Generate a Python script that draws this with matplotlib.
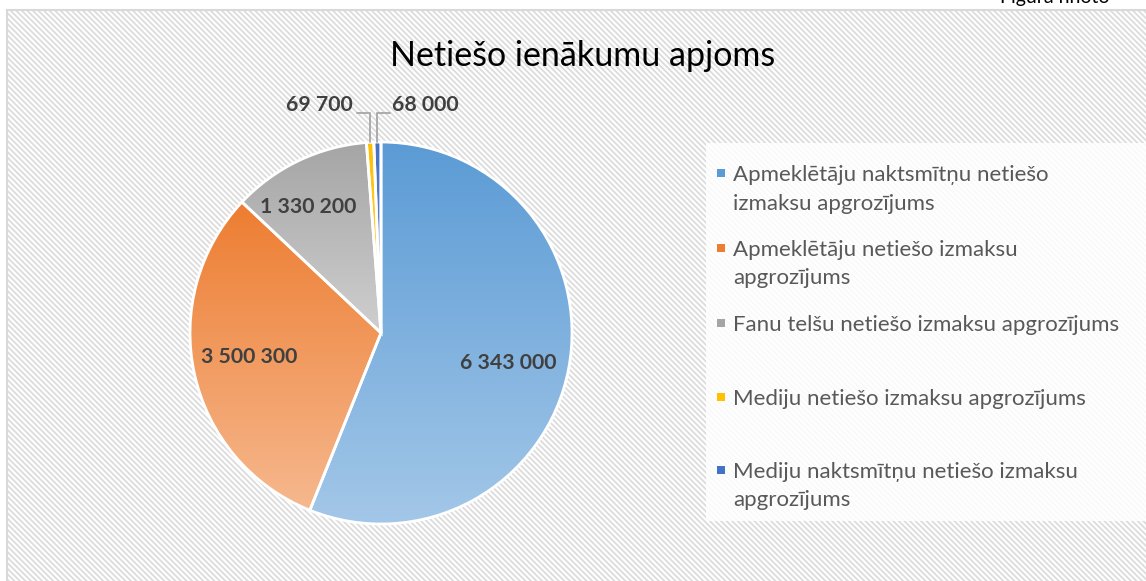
"""
Pie chart: Netiešo ienākumu apjoms.

Recreates a spreadsheet-style pie with gradient slices, hatched
background and a manual legend on the right.
"""

import matplotlib

matplotlib.use("Agg")
import matplotlib.pyplot as plt
import numpy as np
from matplotlib.colors import LinearSegmentedColormap
from matplotlib.patches import Rectangle

W, H = 1146, 581

categories = [
    "Apmeklētāju naktsmītņu netiešo\nizmaksu apgrozījums",
    "Apmeklētāju netiešo izmaksu\napgrozījums",
    "Fanu telšu netiešo izmaksu apgrozījums",
    "Mediju netiešo izmaksu apgrozījums",
    "Mediju naktsmītņu netiešo izmaksu\napgrozījums",
]
values = [6343000, 3500300, 1330200, 69700, 68000]
value_labels = ["6 343 000", "3 500 300", "1 330 200", "69 700", "68 000"]

top_colors = ["#5b9bd5", "#ed7d31", "#a5a5a5", "#ffc000", "#4472c4"]
bottom_colors = ["#a3c7e8", "#f6b88e", "#cfcfcf", "#ffd966", "#6f93d3"]

FONT = ["Lato", "DejaVu Sans"]
plt.rcParams["font.family"] = FONT
plt.rcParams["hatch.linewidth"] = 1.3


def px(x, y):
    """Pixel position (from top-left) to figure fraction."""
    return x / W, 1 - y / H


fig = plt.figure(figsize=(W / 100, H / 100), dpi=100)
fig.patch.set_facecolor("white")

# hatched chart area with light border on top/left
bx, by = px(7, 10)
fig.patches.append(Rectangle((bx, -0.1), 1.2, by + 0.1, transform=fig.transFigure,
                             facecolor="white", edgecolor="#dcdcdc", hatch="\\" * 6,
                             linewidth=0, zorder=0))
fig.add_artist(plt.Line2D([bx, bx], [-0.1, by], transform=fig.transFigure,
                          color="#d9d9d9", linewidth=1.5))
fig.add_artist(plt.Line2D([bx, 1.1], [by, by], transform=fig.transFigure,
                          color="#d9d9d9", linewidth=1.5))

# legend backdrop
lx, ly = px(706, 521)
fig.patches.append(Rectangle((lx, ly), 1.0, px(0, 143)[1] - ly, transform=fig.transFigure,
                             facecolor="white", edgecolor="none", alpha=0.85, zorder=1))

# cut-off caption at the top right
fig.text(*px(1000, 3), "Figura nnoto", fontsize=14, color="black", va="baseline")

fig.text(*px(583, 66), "Netiešo ienākumu apjoms", fontsize=24.5, color="black",
         ha="center", va="baseline")

# pie axes: centre (381, 333), radius 191 px
cx, cy, r = 381, 333, 191
ax = fig.add_axes([(cx - r) / W, (H - cy - r) / H, 2 * r / W, 2 * r / H])
ax.set_zorder(2)
wedges, _ = ax.pie(values, startangle=90, counterclock=False, radius=1,
                   colors=top_colors,
                   wedgeprops=dict(edgecolor="white", linewidth=2))
ax.axis("off")

for w, c0, c1 in zip(wedges, top_colors, bottom_colors):
    ext = w.get_path().get_extents()
    cmap = LinearSegmentedColormap.from_list("g", [c1, c0])
    grad = np.linspace(0, 1, 256).reshape(-1, 1)
    im = ax.imshow(grad, cmap=cmap, origin="lower", aspect="auto",
                   extent=(ext.x0, ext.x1, ext.y0, ext.y1), zorder=w.get_zorder())
    im.set_clip_path(w)
    w.set_facecolor("none")
    w.set_zorder(w.get_zorder() + 0.5)
ax.set_xlim(-1, 1)
ax.set_ylim(-1, 1)
ax.set_aspect("equal")


def d(x, y):
    """Pixel position to pie data coordinates."""
    return (x - cx) / r, (cy - y) / r


label_style = dict(fontsize=15.3, fontweight="bold", color="#404040")
inner_pos = [(508, 363), (249, 357), (308, 207)]
for (x, y), txt in zip(inner_pos, value_labels[:3]):
    ax.text(*d(x, y), txt, ha="center", va="center", zorder=5, **label_style)

# small slices: leader lines to outside labels
angles = [(w.theta1 + w.theta2) / 2 for w in wedges]
outside = [(3, 357, 353, "right"), (4, 390, 392, "left")]
for i, line_x, text_x, ha in outside:
    a = np.deg2rad(angles[i])
    ax.annotate("", xy=(np.cos(a), np.sin(a)), xytext=d(line_x, 113),
                arrowprops=dict(arrowstyle="-", color="#a6a6a6", linewidth=1.3,
                                connectionstyle="angle,angleA=0,angleB=90,rad=0",
                                shrinkA=0, shrinkB=0), annotation_clip=False)
    ax.text(*d(text_x, 105), value_labels[i], ha=ha, va="center", zorder=5,
            clip_on=False, **label_style)

# legend
entry_y = [173, 248, 323, 397, 470]
for label, c0, c1, y in zip(categories, top_colors, bottom_colors, entry_y):
    mx, my = px(717, y + 4)
    fig.patches.append(Rectangle((mx, my), 8 / W, 8 / H, transform=fig.transFigure,
                                 facecolor=c0, edgecolor="none", zorder=3))
    for k, line in enumerate(label.split("\n")):
        fig.text(*px(733, y + 8 + 28.5 * k), line, fontsize=16, color="#595959",
                 va="baseline", zorder=3)

fig.savefig("out.png", dpi=100)
